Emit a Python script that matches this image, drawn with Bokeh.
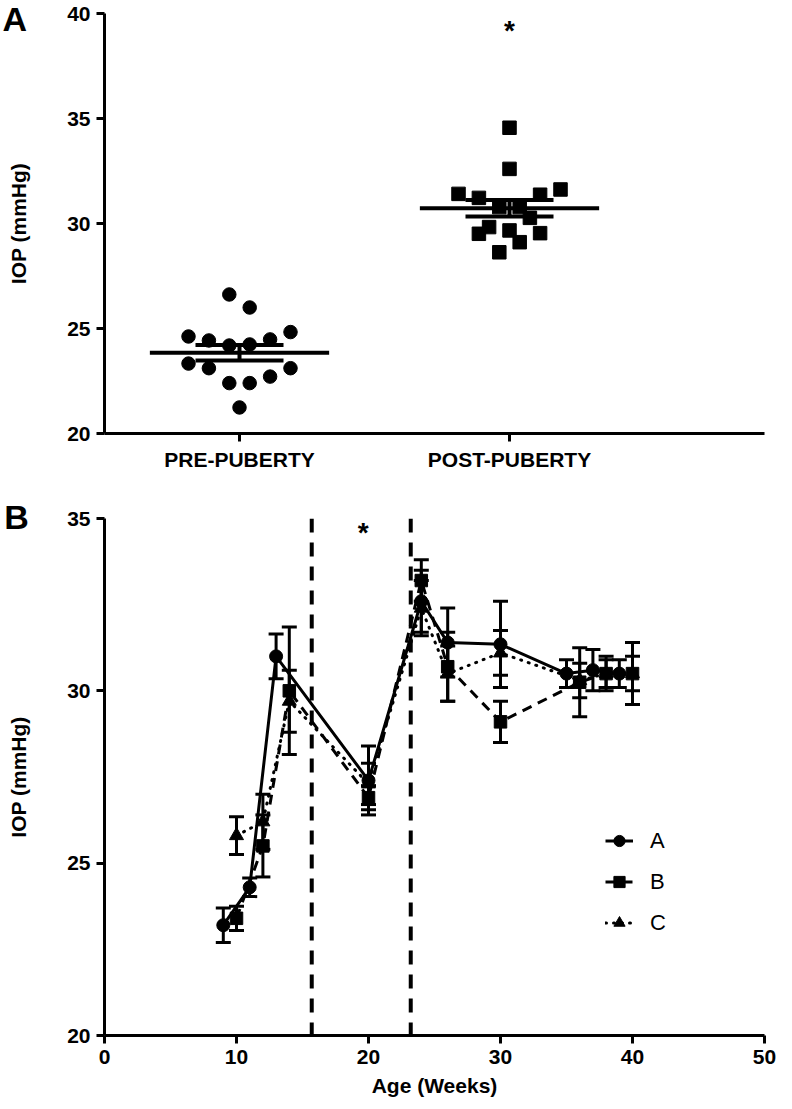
import numpy as np
from bokeh.plotting import figure
from bokeh.models import (Range1d, FixedTicker, Span, Whisker, TeeHead,
                          ColumnDataSource, Legend, LegendItem, Label)
from bokeh.layouts import column
from bokeh.embed import file_html
from bokeh.resources import INLINE
from bokeh.core.properties import value

FONT = "Liberation Sans"

# ---------------- Panel A data ----------------
categories = ["PRE-PUBERTY", "POST-PUBERTY"]
pre_iop = [26.62, 26.0, 24.62, 24.43, 24.19, 24.24, 24.48, 24.83,
           23.33, 23.11, 23.11, 22.71, 22.4, 22.4, 21.24]
pre_slot = [-0.5, 0.5, -2.5, -1.5, -0.5, 0.5, 1.5, 2.5,
            -2.5, -1.5, 2.5, 1.5, -0.5, 0.5, 0.0]
post_iop = [34.56, 32.60, 31.41, 31.22, 31.37, 31.62, 30.78, 30.78,
            30.27, 29.83, 29.51, 29.67, 29.54, 29.11, 28.63]
post_slot = [0.0, 0.0, -2.5, -1.5, 1.5, 2.5, -0.5, 0.5,
             1.0, -1.0, -1.5, 0.0, 1.5, 0.5, -0.5]
a_yticks = [20, 25, 30, 35, 40]

# ---------------- Panel B data ----------------
weeks_a = [9, 11, 13, 20, 24, 26, 30, 35, 37, 39]
iop_a = [23.2, 24.3, 31.0, 27.4, 32.6, 31.4, 31.35, 30.5, 30.6, 30.5]
sem_a = [0.5, 0.27, 0.65, 1.0, 0.9, 1.0, 1.25, 0.4, 0.6, 0.4]

weeks_b = [10, 12, 14, 20, 24, 26, 30, 36, 38, 40]
iop_b = [23.4, 25.5, 30.0, 26.9, 33.2, 30.7, 29.1, 30.25, 30.5, 30.5]
sem_b = [0.35, 0.9, 1.85, 0.35, 0.6, 1.0, 0.6, 1.0, 0.4, 0.9]

weeks_c = [10, 12, 14, 20, 24, 26, 30, 36, 38, 40]
iop_c = [25.8, 26.2, 29.7, 27.3, 32.4, 30.5, 31.1, 30.3, 30.5, 30.5]
sem_c = [0.55, 0.8, 0.9, 0.6, 0.8, 0.8, 0.65, 0.5, 0.5, 0.5]

b_xticks = [0, 10, 20, 30, 40, 50]
b_yticks = [20, 25, 30, 35]
puberty_bounds = [15.7, 23.2]

TICK_PX = "21px"
LABEL_PX = "21px"


def style_axes(p):
    p.outline_line_color = None
    p.xgrid.visible = False
    p.ygrid.visible = False
    for ax in (p.xaxis[0], p.yaxis[0]):
        ax.axis_line_width = 3
        ax.axis_line_color = "black"
        ax.major_tick_line_width = 3
        ax.major_tick_line_color = "black"
        ax.major_tick_out = 8
        ax.major_tick_in = 0
        ax.minor_tick_line_color = None
        ax.major_label_text_font = FONT
        ax.major_label_text_font_style = "bold"
        ax.major_label_text_font_size = TICK_PX
        ax.major_label_text_color = "black"
        ax.axis_label_text_font = FONT
        ax.axis_label_text_font_style = "bold"
        ax.axis_label_text_font_size = LABEL_PX
        ax.axis_label_text_color = "black"
        ax.major_label_standoff = 6


# ---------------- Panel A ----------------
A_PX = 270.0  # pixels per category unit
pa = figure(width=792, height=476, x_range=Range1d(0.5, 0.5 + 660 / A_PX), y_range=Range1d(20, 40),
            output_backend="svg", toolbar_location=None,
            min_border_left=104, min_border_right=28, min_border_top=13, min_border_bottom=43)
style_axes(pa)
pa.xaxis.ticker = FixedTicker(ticks=[1, 2])
pa.xaxis.major_label_overrides = {1: categories[0], 2: categories[1]}
pa.yaxis.ticker = FixedTicker(ticks=a_yticks)
pa.yaxis.axis_label = "IOP (mmHg)"
pa.yaxis.axis_label_standoff = 34

slot_w = 20.4 / A_PX
groups = [(1, pre_iop, pre_slot, "circle"), (2, post_iop, post_slot, "square")]
for cx, vals, slots, mk in groups:
    xs = [cx + s * slot_w for s in slots]
    pa.scatter(xs, vals, marker=mk, size=13.5, color="black")
    arr = np.array(vals)
    m = arr.mean()
    sem = arr.std(ddof=1) / np.sqrt(len(arr))
    pa.segment(x0=[cx - 0.332], x1=[cx + 0.332], y0=[m], y1=[m], line_width=4, color="black")
    pa.segment(x0=[cx - 0.163, cx - 0.163], x1=[cx + 0.163, cx + 0.163],
               y0=[m - sem, m + sem], y1=[m - sem, m + sem], line_width=4, color="black")
    pa.segment(x0=[cx], x1=[cx], y0=[m - sem], y1=[m + sem], line_width=4, color="black")

pa.text(x=[2], y=[39.18], text=["*"], text_font=value(FONT), text_font_style="bold",
        text_font_size="28px", text_align="center", text_baseline="middle", color="black")
# panel letter (placed in a side panel so it is not clipped to the frame)
pa.add_layout(Label(x=0.5 - 102 / A_PX, y=40 - 5 / 21.0, text="A", text_font=FONT,
                    text_font_style="bold", text_font_size="34px", text_color="black",
                    text_baseline="alphabetic", text_align="left"), "right")

# ---------------- Panel B ----------------
B_PX = 672 / 50.0
pb = figure(width=792, height=631, x_range=Range1d(0, 50), y_range=Range1d(20, 35),
            output_backend="svg", toolbar_location=None,
            min_border_left=104, min_border_right=16, min_border_top=42, min_border_bottom=72)
style_axes(pb)
pb.xaxis.ticker = FixedTicker(ticks=b_xticks)
pb.yaxis.ticker = FixedTicker(ticks=b_yticks)
pb.xaxis.axis_label = "Age (Weeks)"
pb.yaxis.axis_label = "IOP (mmHg)"
pb.yaxis.axis_label_standoff = 34
pb.xaxis.axis_label_standoff = 7

for loc in puberty_bounds:
    pb.add_layout(Span(location=loc, dimension="height", line_color="black",
                       line_width=4, line_dash="14 10"))

series = [
    ("A", weeks_a, iop_a, sem_a, "circle", "solid", 13),
    ("B", weeks_b, iop_b, sem_b, "square", "10 7", 12.5),
    ("C", weeks_c, iop_c, sem_c, "triangle", "1 7", 14),
]
items = []
for name, wk, v, s, mk, dash, sz in series:
    src = ColumnDataSource(dict(x=wk, y=v, lo=[a - b for a, b in zip(v, s)],
                                hi=[a + b for a, b in zip(v, s)]))
    pb.add_layout(Whisker(source=src, base="x", upper="hi", lower="lo", dimension="height",
                          line_width=3, line_color="black",
                          upper_head=TeeHead(size=15, line_width=3, line_color="black"),
                          lower_head=TeeHead(size=15, line_width=3, line_color="black")))
    ln = pb.line("x", "y", source=src, line_width=3, color="black", line_dash=dash,
                 line_cap="round" if name == "C" else "butt")
    sc = pb.scatter("x", "y", source=src, marker=mk, size=sz, color="black")
    items.append(LegendItem(label=name, renderers=[ln, sc]))

leg = Legend(items=items, location=(501, 92), border_line_color=None,
             background_fill_alpha=0, label_text_font=FONT, label_text_font_size="22px",
             label_text_color="black",
             glyph_width=28, glyph_height=41, label_height=41, spacing=0, padding=0,
             margin=0, label_standoff=17)
pb.add_layout(leg)

pb.text(x=[19.6], y=[34.59], text=["*"], text_font=value(FONT), text_font_style="bold",
        text_font_size="28px", text_align="center", text_baseline="middle", color="black")
pb.add_layout(Label(x=-102 / B_PX, y=35 + 2 / 34.47, text="B", text_font=FONT,
                    text_font_style="bold", text_font_size="34px", text_color="black",
                    text_baseline="alphabetic", text_align="left"), "above")

layout = column(pa, pb, spacing=0)
open("out.html", "w").write(file_html(layout, INLINE))
